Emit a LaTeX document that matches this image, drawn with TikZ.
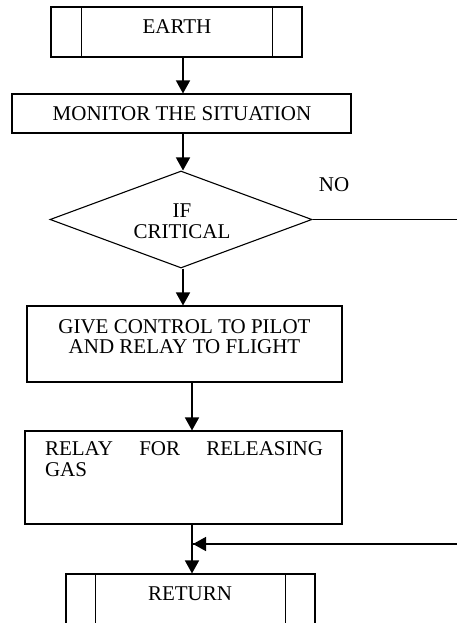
\documentclass[tikz,border=0pt]{standalone}
\usepackage{fontspec}
\setmainfont{Liberation Serif}
\usetikzlibrary{arrows.meta,shapes.geometric}
\begin{document}
\begin{tikzpicture}[x=1pt,y=-1pt,
  box/.style={draw,line width=1.1pt,inner sep=0pt},
  lbl/.style={inner sep=0pt,font=\fontsize{21}{20.5}\selectfont},
  arr/.style={line width=1.5pt,-{Triangle[width=14pt,length=13pt]}},
  ln/.style={line width=1.3pt}]
\useasboundingbox[fill=white] (0,0) rectangle (456,623);
\coordinate (c1) at (183,0);
\coordinate (c2) at (192,0);
% EARTH
\node[box,minimum width=251,minimum height=50] (earth) at (176.5,32) {};
\draw[line width=1.1pt] ([xshift=31pt]earth.north west) -- ([xshift=31pt]earth.south west);
\draw[line width=1.1pt] ([xshift=-30pt]earth.north east) -- ([xshift=-30pt]earth.south east);
\node[lbl] (tearth) at (177,27) {EARTH};
% MONITOR
\node[box,minimum width=339,minimum height=39] (mon) at (181.5,113.5) {};
\node[lbl] (tmon) at (182,114) {MONITOR THE SITUATION};
% decision
\node[draw,line width=1.1pt,diamond,inner sep=0pt,minimum width=262,minimum height=97] (dia) at (181,219.5) {};
\node[lbl,align=center] (tdia) at (182,221) {IF\\CRITICAL};
\node[lbl] (tno) at (334,185) {NO};
% GIVE CONTROL
\node[box,minimum width=315,minimum height=76] (give) at (184.5,344) {};
\node[lbl,align=center] (tgive) at (184.5,336.5) {GIVE CONTROL TO PILOT\\AND RELAY TO FLIGHT};
% RELAY
\node[box,minimum width=317,minimum height=93] (relay) at (183.5,477.5) {};
\node[lbl,text width=278pt,align=left] (trelay) at (184,459) {RELAY\hfill FOR\hfill RELEASING\\GAS};
% RETURN
\node[box,minimum width=249,minimum height=70] (ret) at (190.5,609) {};
\draw[line width=1.1pt] ([xshift=30pt]ret.north west) -- ([xshift=30pt]ret.south west);
\draw[line width=1.1pt] ([xshift=-30pt]ret.north east) -- ([xshift=-30pt]ret.south east);
\node[lbl] (tret) at (190,594) {RETURN};
% connectors
\draw[arr] (earth.south -| c1) -- (mon.north -| c1);
\draw[arr] (mon.south -| c1) -- (dia.north -| c1);
\draw[arr] (dia.south -| c1) -- (give.north -| c1);
\draw[arr] (give.south -| c2) -- (relay.north -| c2);
\draw[arr] (relay.south -| c2) -- (ret.north -| c2);
\coordinate (join) at (193,544);
\coordinate (far) at (462,219.5);
\draw[ln] (dia.east) -- (far) |- (join);
\draw[arr] (462,544) -- (join);
\end{tikzpicture}
\end{document}
